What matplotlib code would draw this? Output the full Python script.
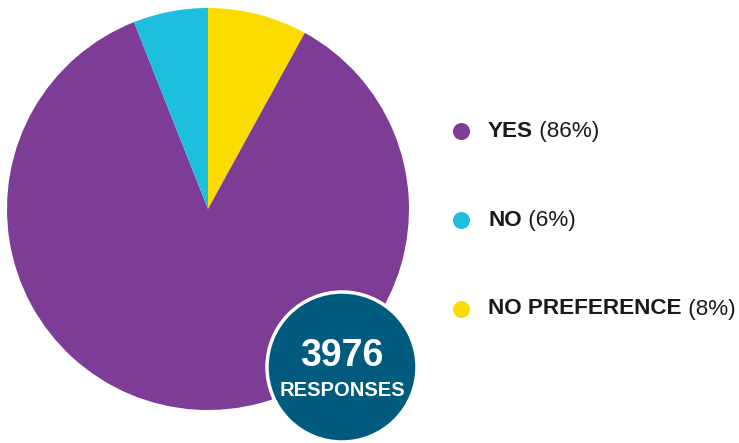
import matplotlib.pyplot as plt
from matplotlib.patches import Circle

plt.rcParams['font.family'] = ['Liberation Sans', 'DejaVu Sans']

# survey answers, clockwise from 12 o'clock
labels = ['NO PREFERENCE', 'YES', 'NO']
shares = [8, 86, 6]
colors = ['#FCDC00', '#7D3C96', '#1CBFDD']
total_responses = 3976

# legend order
legend_labels = ['YES', 'NO', 'NO PREFERENCE']
legend_shares = [86, 6, 8]
legend_colors = ['#7D3C96', '#1CBFDD', '#FCDC00']

W, H = 739, 443
fig = plt.figure(figsize=(W / 100, H / 100), dpi=100)
ax = fig.add_axes([0, 0, 1, 1])

ax.pie(shares, colors=colors, startangle=90, counterclock=False,
       center=(208, H - 209), radius=201, frame=True,
       wedgeprops=dict(linewidth=0))

# responses badge
ax.add_patch(Circle((342, H - 367), 75, facecolor='#005B7E',
                    edgecolor='white', linewidth=2.5, zorder=5))
ax.text(342, H - 356, str(total_responses), color='white', fontsize=27,
        fontweight='bold', ha='center', va='center', zorder=6)
ax.text(342, H - 391, 'RESPONSES', color='white', fontsize=14.5,
        fontweight='bold', ha='center', va='center', zorder=6)

# legend
for i, (lab, val, col) in enumerate(zip(legend_labels, legend_shares, legend_colors)):
    y = H - (131 + i * 89)
    ax.scatter([461], [y], s=150, color=col, linewidths=0, zorder=4)
    t = ax.text(488, y, lab, fontsize=16.2, fontweight='bold',
                color='#1A1A1A', ha='left', va='center')
    ax.annotate(f' ({val}%)', xy=(1, 0), xycoords=t, fontsize=16.2,
                color='#1A1A1A', ha='left', va='bottom')

ax.set_xlim(0, W)
ax.set_ylim(0, H)
ax.set_aspect('equal')
ax.axis('off')

fig.savefig('out.png', dpi=100)
